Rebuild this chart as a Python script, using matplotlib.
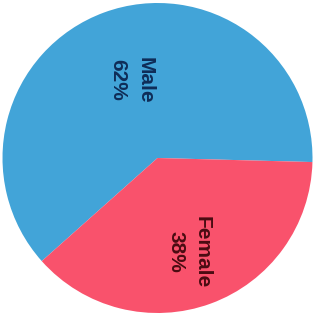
import matplotlib
matplotlib.use("Agg")
import matplotlib.pyplot as plt

labels = ["Male", "Female"]
values = [62, 38]
colors = ["#42a4d8", "#f9526c"]
text_colors = ["#0f2d58", "#4a0c12"]
label_pos = [(-0.168, 0.503), (0.203, -0.606)]

fig = plt.figure(figsize=(3.18, 3.14), dpi=100)
W, H = 318, 314
cx, cy, r = 157.5, 158.0, 155.0
ax = fig.add_axes([(cx - r) / W, (H - cy - r) / H, 2 * r / W, 2 * r / H])
wedges, _ = ax.pie(values, colors=colors, startangle=-1.5, counterclock=True,
                   radius=1.0, wedgeprops=dict(linewidth=0))
ax.set_xlim(-1, 1)
ax.set_ylim(-1, 1)
ax.set_aspect("equal")
ax.axis("off")

for lab, v, tc, (x, y) in zip(labels, values, text_colors, label_pos):
    ax.text(x, y, f"{lab}\n{v}%", rotation=-90, ha="center", va="center",
            multialignment="center", linespacing=1.5, fontsize=15,
            fontweight="bold", family="Liberation Sans", color=tc)

fig.savefig("out.png", dpi=100)
